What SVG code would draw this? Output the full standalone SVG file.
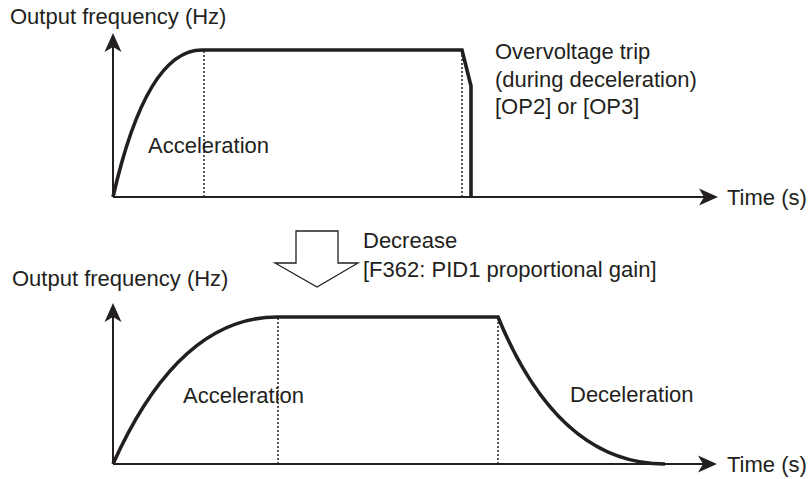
<svg xmlns="http://www.w3.org/2000/svg" width="811" height="479" viewBox="0 0 811 479">
<style>
text{font-family:"Liberation Sans",Arial,sans-serif;font-size:22px;fill:#231f20}
.axis{stroke:#231f20;stroke-width:2;fill:none}
.curve{stroke:#231f20;stroke-width:3.6;fill:none;stroke-linejoin:miter}
.dot{stroke:#231f20;stroke-width:1.5;stroke-dasharray:2 2;fill:none}
.hollow{stroke:#231f20;stroke-width:1.3;fill:#fff;stroke-linejoin:miter}
</style>
<defs>
<marker id="ah" markerUnits="userSpaceOnUse" viewBox="0 -9 20 18" markerWidth="20" markerHeight="18" refX="5" refY="0" orient="auto">
<path d="M19,0 L0,-8.5 L5,0 L0,8.5 Z" fill="#231f20"/>
</marker>
</defs>
<rect width="811" height="479" fill="#fff"/>
<g id="connectors">
<line class="axis" x1="113" y1="197" x2="113" y2="47" marker-end="url(#ah)"/>
<line class="axis" x1="113" y1="197" x2="704" y2="197" marker-end="url(#ah)"/>
<line class="axis" x1="113" y1="464" x2="113" y2="317" marker-end="url(#ah)"/>
<line class="axis" x1="113" y1="464" x2="703" y2="464" marker-end="url(#ah)"/>
</g>
<g id="top-chart">
<line class="dot" x1="204" y1="51" x2="204" y2="196"/>
<line class="dot" x1="462" y1="51" x2="462" y2="196"/>
<path class="curve" d="M113,197 Q146.5,50 202,50 L462,50 L471,86 L471,197"/>
<text x="10" y="24">Output frequency (Hz)</text>
<text x="148" y="153">Acceleration</text>
<text x="495" y="59">Overvoltage trip</text>
<text x="495" y="86.5">(during deceleration)</text>
<text x="495" y="114">[OP2] or [OP3]</text>
<text x="727" y="205">Time (s)</text>
</g>
<g id="decrease-arrow">
<polygon class="hollow" points="296,231 338,231 338,263 358,263 317,287 275,263 296,263"/>
<text x="363" y="248">Decrease</text>
<text x="363" y="277">[F362: PID1 proportional gain]</text>
</g>
<g id="bottom-chart">
<line class="dot" x1="278" y1="318" x2="278" y2="463"/>
<line class="dot" x1="498" y1="318" x2="498" y2="463"/>
<path class="curve" d="M113,464 Q179,317 277,317 L498,317 Q558.5,464 665,464"/>
<text x="12" y="286">Output frequency (Hz)</text>
<text x="183" y="403">Acceleration</text>
<text x="570" y="402">Deceleration</text>
<text x="727" y="472">Time (s)</text>
</g>
</svg>
